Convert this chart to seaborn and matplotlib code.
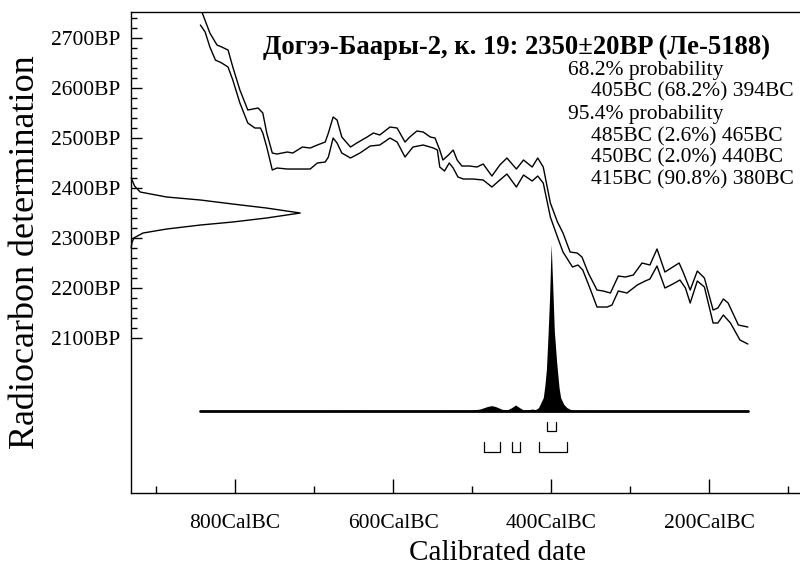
import numpy as np
import matplotlib
matplotlib.use("Agg")
import matplotlib.pyplot as plt
import seaborn as sns

# ---------------------------------------------------------
# DATA
# ---------------------------------------------------------
# calibration curve, upper and lower envelope (year BC, BP)
upper_bc = [844, 832, 823, 817, 809, 803, 794, 784, 771, 765, 760, 753, 747, 734, 727,
            715, 705, 696, 686, 682, 676, 671, 665, 654, 646, 633, 625, 617, 604, 595,
            585, 579, 570, 562, 553, 547, 541, 537, 530, 524, 519, 513, 503, 494, 486,
            475, 465, 456, 444, 435, 424, 417, 410, 401, 392, 385, 376, 367, 361, 353,
            342, 334, 325, 315, 306, 296, 285, 275, 266, 256, 246, 238, 233, 224, 215,
            206, 195, 189, 182, 176, 163, 157, 151]
upper_bp = [2760, 2710, 2686, 2682, 2676, 2642, 2596, 2556, 2560, 2550, 2510, 2470, 2468, 2472, 2470,
            2482, 2480, 2486, 2492, 2510, 2542, 2536, 2502, 2482, 2490, 2502, 2510, 2506, 2522, 2520,
            2492, 2502, 2514, 2512, 2502, 2500, 2476, 2456, 2466, 2476, 2456, 2444, 2444, 2442, 2448,
            2424, 2446, 2460, 2438, 2456, 2442, 2460, 2442, 2370, 2332, 2310, 2272, 2270, 2262, 2230,
            2196, 2194, 2190, 2224, 2222, 2226, 2250, 2246, 2278, 2232, 2242, 2250, 2232, 2196, 2234,
            2220, 2156, 2160, 2178, 2170, 2126, 2124, 2122]

lower_bc = [844, 838, 832, 825, 817, 809, 803, 794, 784, 775, 768, 765, 760, 753, 747,
            734, 718, 705, 696, 686, 682, 676, 671, 665, 654, 642, 629, 617, 604, 595,
            585, 575, 562, 549, 544, 541, 535, 529, 524, 518, 511, 499, 486, 475, 465,
            456, 444, 435, 424, 417, 410, 401, 392, 385, 373, 366, 360, 351, 342, 329,
            323, 315, 304, 291, 281, 275, 266, 256, 246, 237, 230, 224, 215, 206, 195,
            189, 182, 173, 161, 151]
lower_bp = [2726, 2712, 2682, 2656, 2650, 2642, 2616, 2570, 2530, 2520, 2520, 2510, 2482, 2436, 2440,
            2438, 2438, 2438, 2450, 2452, 2462, 2500, 2490, 2470, 2460, 2470, 2484, 2486, 2500, 2492,
            2462, 2482, 2486, 2480, 2476, 2442, 2434, 2450, 2440, 2422, 2418, 2418, 2416, 2402, 2416,
            2428, 2402, 2426, 2414, 2424, 2410, 2342, 2302, 2272, 2242, 2246, 2236, 2200, 2162, 2162,
            2166, 2194, 2190, 2206, 2214, 2218, 2244, 2200, 2208, 2216, 2200, 2170, 2214, 2202, 2130,
            2130, 2146, 2130, 2096, 2088]

# measured date distribution on the y axis (BP, relative width)
meas_bp = [2420, 2416, 2404, 2392, 2382, 2376, 2368, 2360, 2350, 2340, 2332, 2326, 2318, 2310, 2300, 2290, 2280]
meas_p = [0.0, 0.005, 0.02, 0.053, 0.21, 0.41, 0.60, 0.80, 1.0, 0.80, 0.60, 0.41, 0.21, 0.07, 0.015, 0.004, 0.0]

# calibrated probability (year BC, relative height)
cal_bc = [844, 800, 700, 650, 600, 550, 520, 500, 490, 480, 475, 470, 462, 455, 450, 445, 440,
          435, 428, 424, 420, 416, 414, 412, 410, 408, 406, 404, 402, 400, 398, 396, 393, 390,
          388, 384, 380, 375, 370, 300, 200, 151]
cal_p = [0.0, 0.002, 0.003, 0.004, 0.002, 0.003, 0.004, 0.005, 0.012, 0.028, 0.032, 0.026, 0.01,
         0.008, 0.02, 0.036, 0.02, 0.006, 0.008, 0.012, 0.008, 0.02, 0.04, 0.06, 0.08, 0.15, 0.25,
         0.45, 0.68, 1.0, 0.75, 0.48, 0.29, 0.14, 0.08, 0.04, 0.02, 0.008, 0.004, 0.002, 0.001, 0.0]

# ranges (from, to) in years BC
range_68 = [(405, 394)]
range_95 = [(485, 465), (450, 440), (415, 380)]

title = "Догээ-Баары-2, к. 19: 2350±20BP (Ле-5188)"
info_lines = [("68.2% probability", 0),
              ("405BC (68.2%) 394BC", 1),
              ("95.4% probability", 0),
              ("485BC (2.6%) 465BC", 1),
              ("450BC (2.0%) 440BC", 1),
              ("415BC (90.8%) 380BC", 1)]

x_major = [800, 600, 400, 200]
x_minor = [900, 700, 500, 300, 100]
y_major = [2100, 2200, 2300, 2400, 2500, 2600, 2700]


def main():
    sns.set_theme(style="ticks")
    plt.rcParams["font.family"] = ["Liberation Serif", "DejaVu Serif"]

    fig = plt.figure(figsize=(8, 5.67), dpi=100)
    # the plot area runs on past the right edge of the picture
    ax = fig.add_axes([0.164, 0.1305, 0.915, 0.8483])

    # calibration curve
    sns.lineplot(x=upper_bc, y=upper_bp, sort=False, estimator=None, color="black", lw=1.0, ax=ax)
    sns.lineplot(x=lower_bc, y=lower_bp, sort=False, estimator=None, color="black", lw=1.0, ax=ax)

    # measured date on the y axis (x in axes fraction)
    ytr = ax.get_yaxis_transform()
    ax.plot(np.array(meas_p) * 0.2309, meas_bp, color="black", lw=1.0, transform=ytr, clip_on=False)

    # calibrated distribution
    base, height = 1954, 334
    ax.fill_between(cal_bc, base, base + height * np.array(cal_p), color="black", lw=0)
    ax.plot([cal_bc[0], cal_bc[-1]], [base, base], color="black", lw=2.0)

    # range brackets
    for ranges, top, bot in [(range_68, 1932, 1914), (range_95, 1892, 1872)]:
        for a, b in ranges:
            ax.plot([a, a, b, b], [top, bot, bot, top], color="black", lw=0.9)

    ax.set_xlim(931.6, 5)
    ax.set_ylim(1790, 2752)
    ax.set_xticks(x_major)
    ax.set_xticklabels([f"{v}CalBC" for v in x_major])
    ax.set_xticks(x_minor, minor=True)
    ax.set_yticks(y_major)
    ax.set_yticklabels([f"{v}BP" for v in y_major])
    ax.set_yticks([v for v in range(2100, 2741, 20) if v not in y_major], minor=True)

    ax.tick_params(axis="both", which="both", direction="in", color="black", width=1.0,
                   labelsize=15.5, labelcolor="black")
    ax.tick_params(axis="x", which="major", length=10, pad=15)
    ax.tick_params(axis="x", which="minor", length=5)
    ax.tick_params(axis="y", which="major", length=7.7, pad=8)
    ax.tick_params(axis="y", which="minor", length=4.5)

    for s in ["left", "bottom", "top"]:
        ax.spines[s].set_color("black")
        ax.spines[s].set_linewidth(1.0)
    ax.spines["right"].set_visible(False)

    ax.set_xlabel("Calibrated date", fontsize=21, labelpad=5, color="black")
    ax.set_ylabel("Radiocarbon determination", fontsize=26, labelpad=6, color="black")

    fig.text(263 / 800, 1 - 47 / 567, title, fontsize=19.2, fontweight="bold",
             va="center", ha="left", color="black")
    ys = [71, 92, 115, 137, 158, 180]
    for (txt, indent), y in zip(info_lines, ys):
        fig.text((568 + 23 * indent) / 800, 1 - y / 567, txt, fontsize=15.5,
                 va="center", ha="left", color="black")

    fig.savefig("out.png", dpi=100)
    plt.close(fig)


if __name__ == "__main__":
    main()
